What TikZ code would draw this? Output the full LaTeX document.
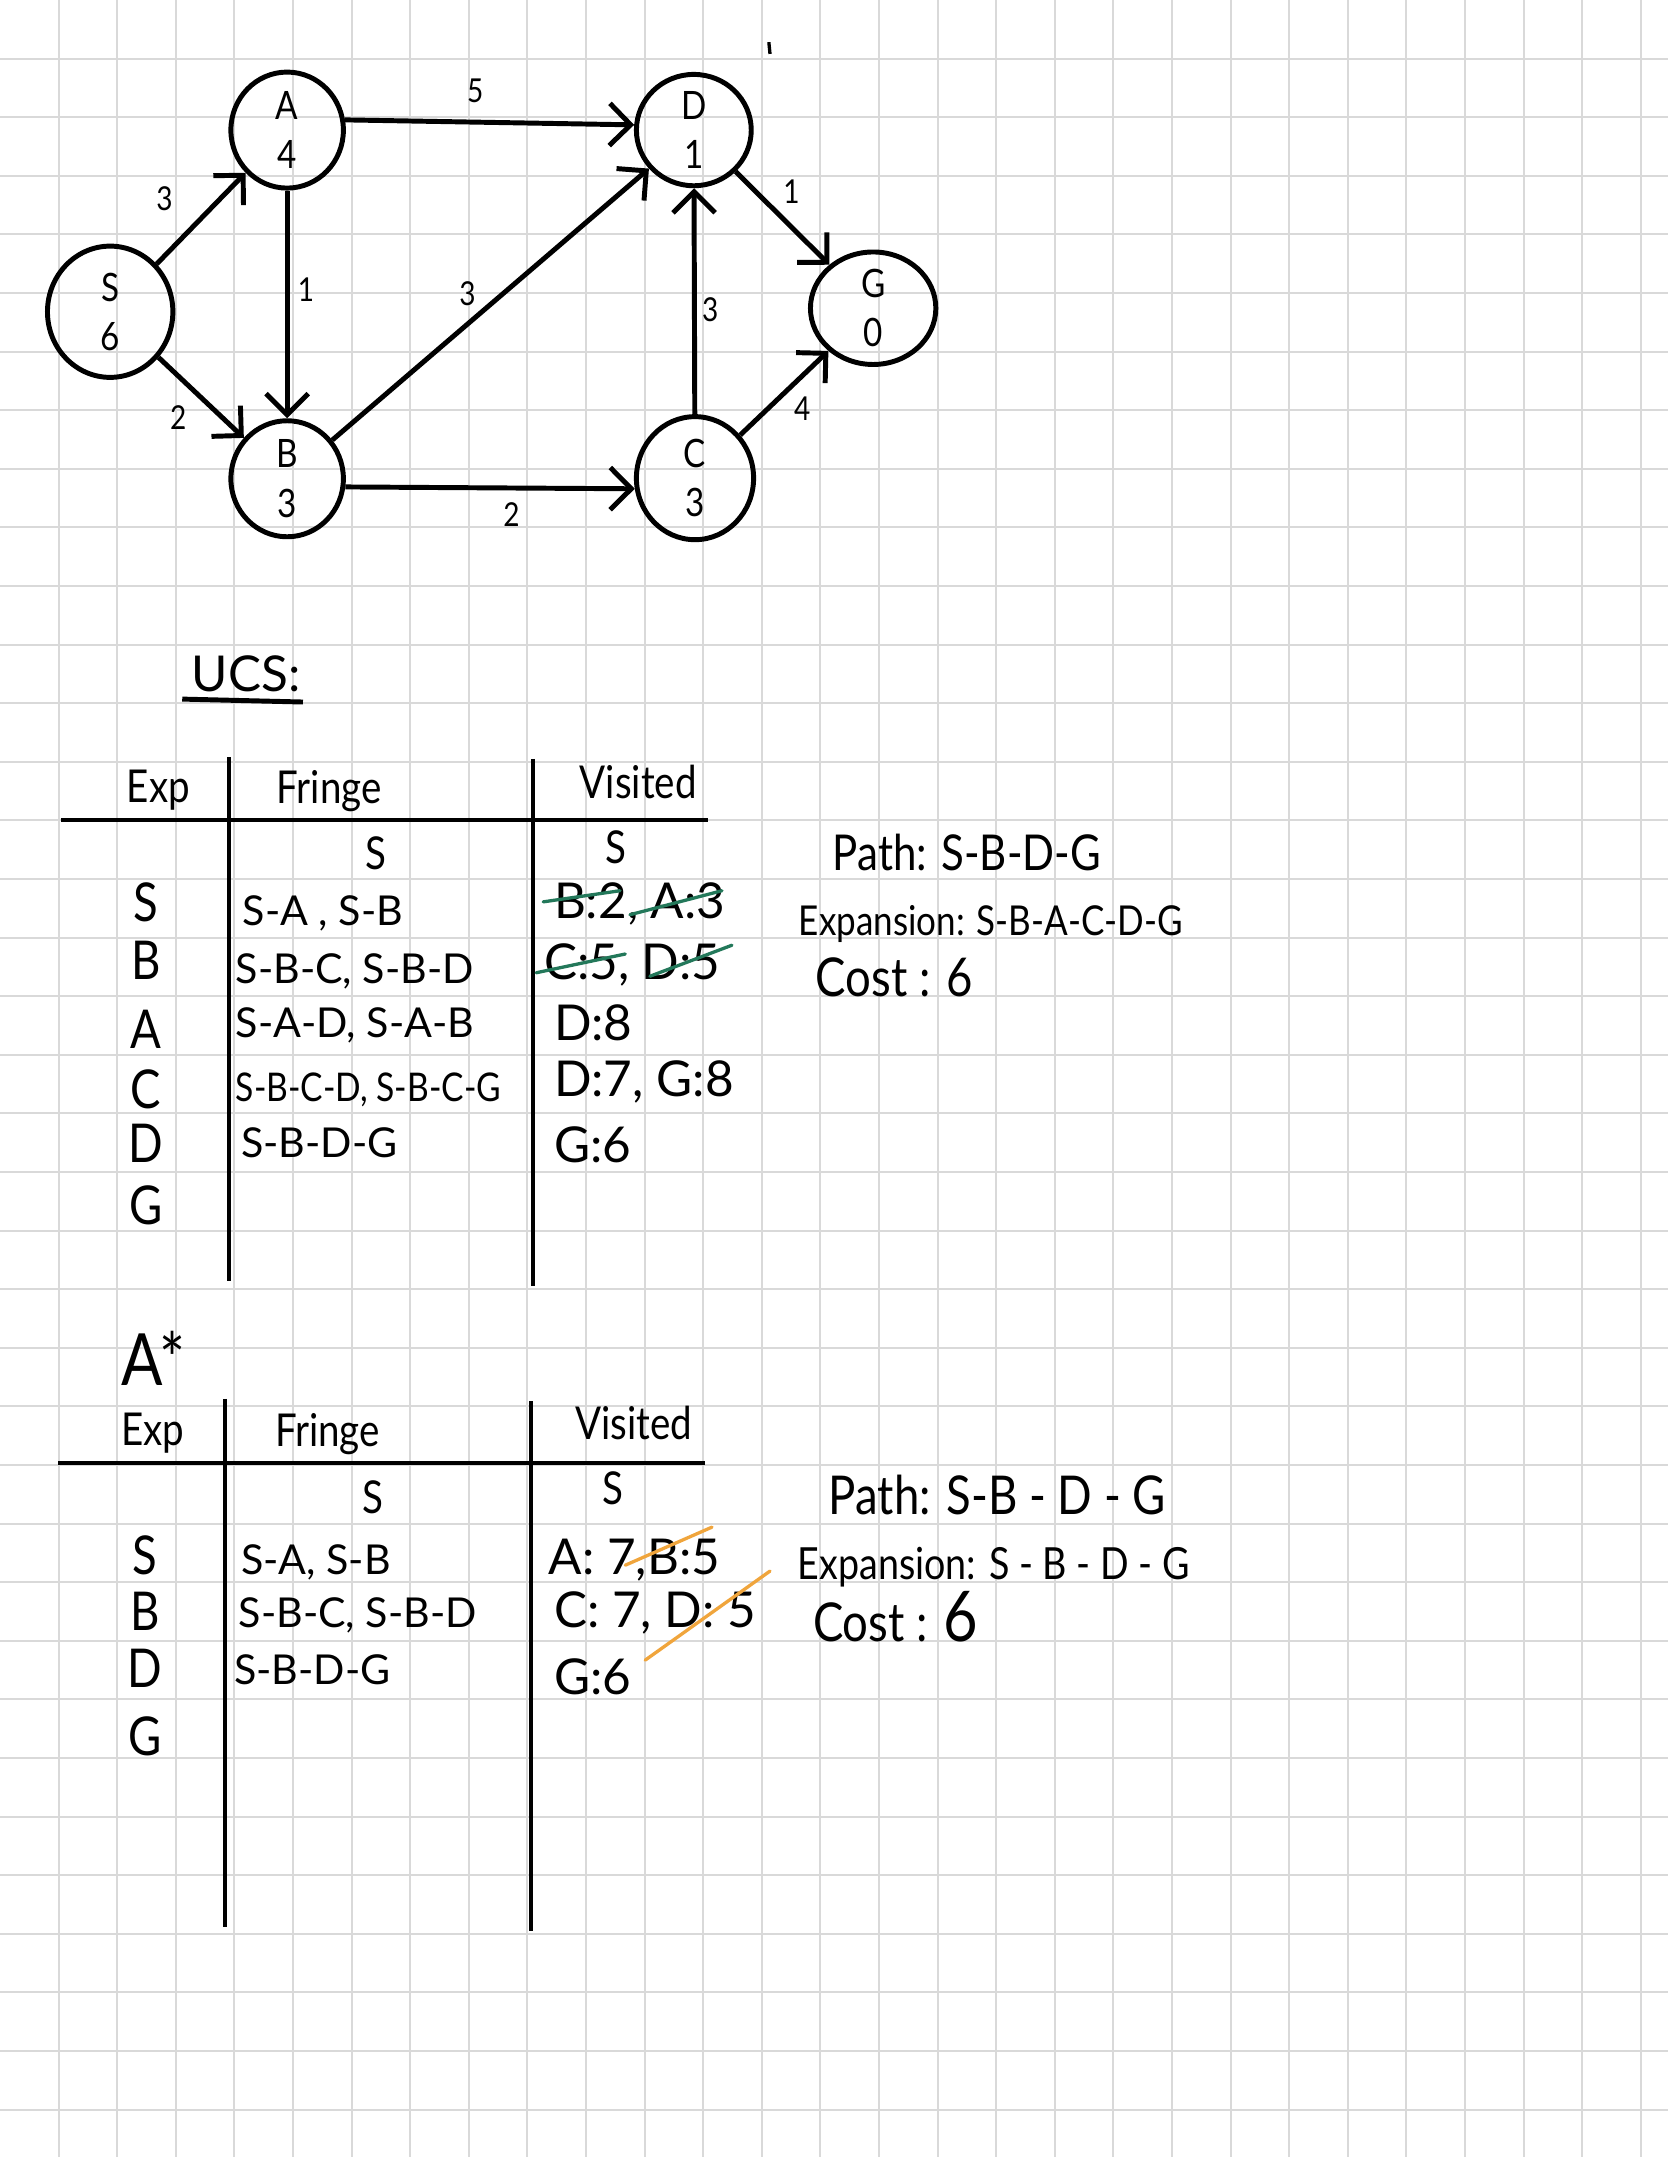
\documentclass[tikz,border=0pt]{standalone}
\usepackage{fontspec}
\newfontfamily\handfont[FakeStretch=0.85]{Lato}
\newfontfamily\handwide{Lato}
\usetikzlibrary{arrows.meta,shapes.geometric}
\definecolor{gridgray}{RGB}{217,217,217}
\definecolor{strikegreen}{RGB}{35,120,90}
\definecolor{strikeorange}{RGB}{240,165,60}
\newcommand{\handsize}[2]{\handfont\fontsize{#1}{#2}\selectfont}
\newcommand{\widesize}[2]{\handwide\fontsize{#1}{#2}\selectfont}
\tikzset{
  gridline/.style={gridgray, line width=0.45pt},
  vertex/.style={draw, ellipse, line width=1.2pt, inner sep=0pt, align=center, font=\handsize{9.5}{12}},
  link/.style={line width=1.2pt, -{Straight Barb[length=1.8mm,width=3.6mm]}},
  lbl/.style={font=\handsize{8}{8}, inner sep=3pt},
  rule/.style={line width=1pt},
  expcell/.style={anchor=base, inner sep=0pt, font=\handsize{13}{13}},
  headcell/.style={anchor=base west, inner sep=0pt, font=\handsize{11}{11}},
  fringecell/.style={anchor=base west, inner sep=0pt, font=\widesize{10}{10}},
  visitcell/.style={anchor=base west, inner sep=0pt, font=\widesize{12}{12}},
  note/.style={anchor=base west, inner sep=0pt, font=\handsize{13}{13}},
  strike/.style={line width=0.8pt, line cap=round}
}
\begin{document}
\begin{tikzpicture}[x=0.5cm, y=-0.5cm]
\useasboundingbox[fill=white] (0,0) rectangle (28.464,36.809);
\foreach \i in {1,...,28} \draw[gridline] (\i,0) -- (\i,36.809);
\foreach \j in {1,...,36} \draw[gridline] (0,\j) -- (28.464,\j);

% graph
\node[vertex, minimum width=1.07cm, minimum height=1.12cm] (S) at (1.88,5.32) {S\\6};
\node[vertex, minimum width=0.96cm, minimum height=0.99cm] (A) at (4.90,2.22) {A\\4};
\node[vertex, minimum width=0.96cm, minimum height=0.99cm] (B) at (4.90,8.17) {B\\3};
\node[vertex, minimum width=0.98cm, minimum height=0.95cm] (D) at (11.84,2.22) {D\\1};
\node[vertex, minimum width=1.00cm, minimum height=1.05cm] (C) at (11.86,8.16) {C\\3};
\node[vertex, minimum width=1.07cm, minimum height=0.96cm] (G) at (14.90,5.26) {G\\0};
\draw[link] (S) -- node[lbl, above left, xshift=-3.3pt, yshift=-1.7pt] (wSA) {3} (A);
\draw[link] (S) -- node[lbl, below left, yshift=1.7pt] (wSB) {2} (B);
\draw[link] (A) -- node[lbl, right, pos=0.4, xshift=-1pt, yshift=-2pt] (wAB) {1} (B);
\draw[link] (A.10) -- node[lbl, above, pos=0.45, yshift=1pt] (wAD) {5} (D.175);
\draw[link] (B) -- node[lbl, above, pos=0.44, xshift=-1pt] (wBD) {3} (D);
\draw[link] (B.-8) -- node[lbl, below, pos=0.55, xshift=1.7pt] (wBC) {2} (C.-170);
\draw[link] (C) -- node[lbl, right, xshift=-1.7pt, yshift=-2pt] (wCD) {3} (D);
\draw[link] (D) -- node[lbl, above right, pos=0.35, yshift=-3.3pt] (wDG) {1} (G);
\draw[link] (C) -- node[lbl, below right, pos=0.55, xshift=-2.3pt, yshift=1.7pt] (wCG) {4} (G);
\draw[line width=0.8pt] (13.12,0.72) -- (13.14,0.92);

% UCS
\node[anchor=base west, inner sep=0pt, font=\widesize{12}{12}] (ucs) at (3.26,11.80) {UCS:};
\draw[line width=1.2pt] (3.11,11.93) -- (5.17,11.98);
\draw[rule] (1.04,13.99) -- (12.08,13.99);
\draw[rule] (3.91,12.92) -- (3.91,21.86);
\draw[rule] (9.10,12.95) -- (9.10,21.95);
\node[headcell] (uExp) at (2.15,13.69) {Exp};
\node[headcell] (uFringe) at (4.71,13.72) {Fringe};
\node[headcell] (uVisited) at (9.88,13.62) {Visited};
\node[anchor=base, font=\handsize{11}{11}] (uF0) at (6.42,14.83) {S};
\node[anchor=base, font=\handsize{11}{11}] (uV0) at (10.51,14.73) {S};
\node[expcell] (uE1) at (2.49,15.72) {S};
\node[expcell] (uE2) at (2.49,16.72) {B};
\node[expcell] (uE3) at (2.49,17.90) {A};
\node[expcell] (uE4) at (2.49,18.91) {C};
\node[expcell] (uE5) at (2.49,19.83) {D};
\node[expcell] (uE6) at (2.49,20.90) {G};
\node[fringecell] (uF1) at (4.13,15.80) {S-A , S-B};
\node[fringecell] (uF2) at (4.01,16.79) {S-B-C, S-B-D};
\node[fringecell] (uF3) at (4.01,17.71) {S-A-D, S-A-B};
\node[fringecell, font=\handsize{9.6}{9.6}] (uF4) at (4.01,18.79) {S-B-C-D, S-B-C-G};
\node[fringecell] (uF5) at (4.10,19.76) {S-B-D-G};
\node[visitcell] (uV1) at (9.44,15.68) {B:2, A:3};
\node[visitcell] (uV2) at (9.27,16.72) {C:5, D:5};
\node[visitcell] (uV3) at (9.44,17.76) {D:8};
\node[visitcell] (uV4) at (9.44,18.72) {D:7, G:8};
\node[visitcell] (uV5) at (9.44,19.83) {G:6};
\draw[strike, strikegreen] (9.27,15.39) -- (10.58,15.20);
\draw[strike, strikegreen] (10.75,15.61) -- (12.32,15.20);
\draw[strike, strikegreen] (9.15,16.60) -- (10.67,16.28);
\draw[strike, strikegreen] (11.09,16.66) -- (12.49,16.13);
\node[note, font=\handsize{12}{12}] (uPath) at (14.20,14.85) {Path: S-B-D-G};
\node[note, font=\handsize{10}{10}] (uExpansion) at (13.62,15.96) {Expansion: S-B-A-C-D-G};
\node[note] (uCost) at (13.91,17.01) {Cost : 6};

% A*
\node[anchor=base west, inner sep=0pt, font=\handsize{17.5}{17.5}] (astar) at (2.06,23.65) {A*};
\draw[rule] (0.99,24.97) -- (12.03,24.97);
\draw[rule] (3.84,23.87) -- (3.84,32.88);
\draw[rule] (9.06,23.91) -- (9.06,32.95);
\node[headcell] (aExp) at (2.06,24.66) {Exp};
\node[headcell] (aFringe) at (4.68,24.69) {Fringe};
\node[headcell] (aVisited) at (9.80,24.56) {Visited};
\node[anchor=base, font=\handsize{11}{11}] (aF0) at (6.37,25.82) {S};
\node[anchor=base, font=\handsize{11}{11}] (aV0) at (10.46,25.67) {S};
\node[expcell] (aE1) at (2.47,26.86) {S};
\node[expcell] (aE2) at (2.47,27.82) {B};
\node[expcell] (aE3) at (2.47,28.79) {D};
\node[expcell] (aE4) at (2.47,29.95) {G};
\node[fringecell] (aF1) at (4.10,26.86) {S-A, S-B};
\node[fringecell] (aF2) at (4.06,27.78) {S-B-C, S-B-D};
\node[fringecell] (aF3) at (3.98,28.75) {S-B-D-G};
\node[visitcell] (aV1) at (9.35,26.86) {A: 7,B:5};
\node[visitcell] (aV2) at (9.44,27.78) {C: 7, D: 5};
\node[visitcell] (aV3) at (9.44,28.91) {G:6};
\draw[strike, strikeorange] (10.67,26.71) -- (12.15,26.06);
\draw[strike, strikeorange] (11.01,28.33) -- (13.14,26.81);
\node[note] (aPath) at (14.13,25.85) {Path: S-B - D - G};
\node[note, font=\handsize{10.75}{10.75}] (aExpansion) at (13.60,26.96) {Expansion: S - B - D - G};
\node[note] (aCost) at (13.86,28.02) {Cost : {\fontsize{17}{17}\selectfont 6}};
\end{tikzpicture}
\end{document}
